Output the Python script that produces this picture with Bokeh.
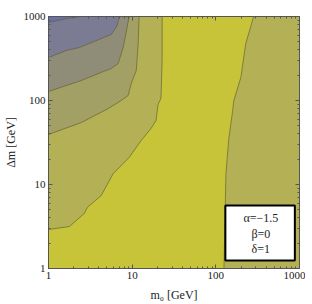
from bokeh.plotting import figure
from bokeh.models import Range1d, LogAxis, FixedTicker, Label, BoxAnnotation
from bokeh.embed import file_html
from bokeh.resources import INLINE

# Contour boundaries (m0 [GeV], Δm [GeV]),
# each running from the left/bottom edge to the top edge.
b1_m0 = [1.0, 1.64, 2.47]
b1_dm = [849, 946, 1000]
b2_m0 = [1.0, 1.64, 2.34, 5.62, 6.63, 7.0]
b2_dm = [325, 394, 428, 611, 781, 1000]
b3_m0 = [1.0, 2.47, 4.27, 5.62, 6.81, 7.81, 8.48, 9.21]
b3_dm = [128, 173, 216, 240, 276, 428, 645, 1000]
b4_m0 = [1.0, 2.47, 5.18, 7.39, 8.96, 9.73, 11.2, 11.8, 12.1]
b4_dm = [39.4, 54.7, 80.3, 100, 115, 159, 228, 477, 1000]
b5_m0 = [1.0, 1.78, 2.68, 2.91, 4.27, 5.94, 9.21, 12.8, 16.8, 19.3, 20.4, 22.1, 22.8, 22.8]
b5_dm = [2.91, 3.16, 4.52, 5.33, 7.40, 13.5, 21.0, 33.4, 46.4, 57.8, 89.6, 106, 299, 1000]
# right-hand boundary (bottom edge to top edge)
r_m0 = [125, 132, 143, 159, 164, 199, 228, 283]
r_dm = [1, 13.5, 35.3, 76, 100, 188, 477, 1000]

level_colors = ["#6c70a8", "#7b7c94", "#8f8d78", "#a3a066", "#b3b056"]
top_color = "#c8c43a"

major_ticks = [1, 10, 100, 1000]
minor_ticks = [m * d for d in [1, 10, 100] for m in range(2, 10)]
tick_labels = {1: "1", 10: "10", 100: "100", 1000: "1000"}

legend_lines = ["α=−1.5", "β=0", "δ=1"]

XMIN, XMAX, YMIN, YMAX = 1, 1000, 1, 1000

p = figure(frame_width=251, frame_height=252, x_axis_type="log", y_axis_type="log",
           x_range=Range1d(XMIN, XMAX), y_range=Range1d(YMIN, YMAX),
           output_backend="svg", toolbar_location=None,
           min_border_left=39, min_border_right=6, min_border_top=16, min_border_bottom=36)
p.background_fill_color = top_color
p.border_fill_color = "white"
p.outline_line_color = "#555555"
p.xgrid.visible = False
p.ygrid.visible = False

line_col = "#5f5d30"
# right region
p.patch(r_m0 + [XMAX, XMAX], r_dm + [YMAX, YMIN], fill_color=level_colors[4], line_color=None)
p.line(r_m0, r_dm, line_color=line_col, line_width=0.8, line_alpha=0.8)
# left nested regions
bounds = [(b5_m0, b5_dm, 4), (b4_m0, b4_dm, 3), (b3_m0, b3_dm, 2), (b2_m0, b2_dm, 1), (b1_m0, b1_dm, 0)]
for xs, ys, k in bounds:
    p.patch(xs + [XMIN], ys + [YMAX], fill_color=level_colors[k], line_color=None)
    p.line(xs, ys, line_color=line_col, line_width=0.8, line_alpha=0.8)

font = "'Liberation Serif'"
ticker = FixedTicker(ticks=major_ticks, minor_ticks=minor_ticks)

def style(ax, labels=True):
    ax.ticker = ticker
    ax.axis_line_color = "#555555"
    ax.major_tick_line_color = "#555555"
    ax.minor_tick_line_color = "#555555"
    ax.major_tick_in = 4
    ax.major_tick_out = 0
    ax.minor_tick_in = 2
    ax.minor_tick_out = 0
    ax.major_label_text_font = font
    ax.major_label_text_font_size = "11px" if labels else "0px"
    ax.major_label_text_color = "#222222" if labels else None
    ax.major_label_standoff = 3 if labels else 0
    ax.major_label_overrides = tick_labels
    ax.axis_label_text_font = font
    ax.axis_label_text_font_size = "12px"
    ax.axis_label_text_font_style = "normal"
    ax.axis_label_text_color = "#222222"

style(p.xaxis[0])
style(p.yaxis[0])
p.xaxis[0].axis_label = "m₀ [GeV]"
p.yaxis[0].axis_label = "Δm [GeV]"
p.xaxis[0].axis_label_standoff = 6
p.yaxis[0].axis_label_standoff = 3

top_ax = LogAxis()
right_ax = LogAxis()
style(top_ax, labels=False)
style(right_ax, labels=False)
p.add_layout(top_ax, "above")
p.add_layout(right_ax, "right")

# parameter box
p.add_layout(BoxAnnotation(left=130, right=880, bottom=1.245, top=5.62,
                           fill_color="white", fill_alpha=1.0,
                           line_color="black", line_width=2, line_alpha=1.0))
for txt, yy in zip(legend_lines, [3.94, 2.61, 1.73]):
    p.add_layout(Label(x=345, y=yy, text=txt, text_align="center", text_baseline="middle",
                       text_font=font, text_font_size="12px", text_color="#222222"))

open("out.html", "w").write(file_html(p, INLINE))
